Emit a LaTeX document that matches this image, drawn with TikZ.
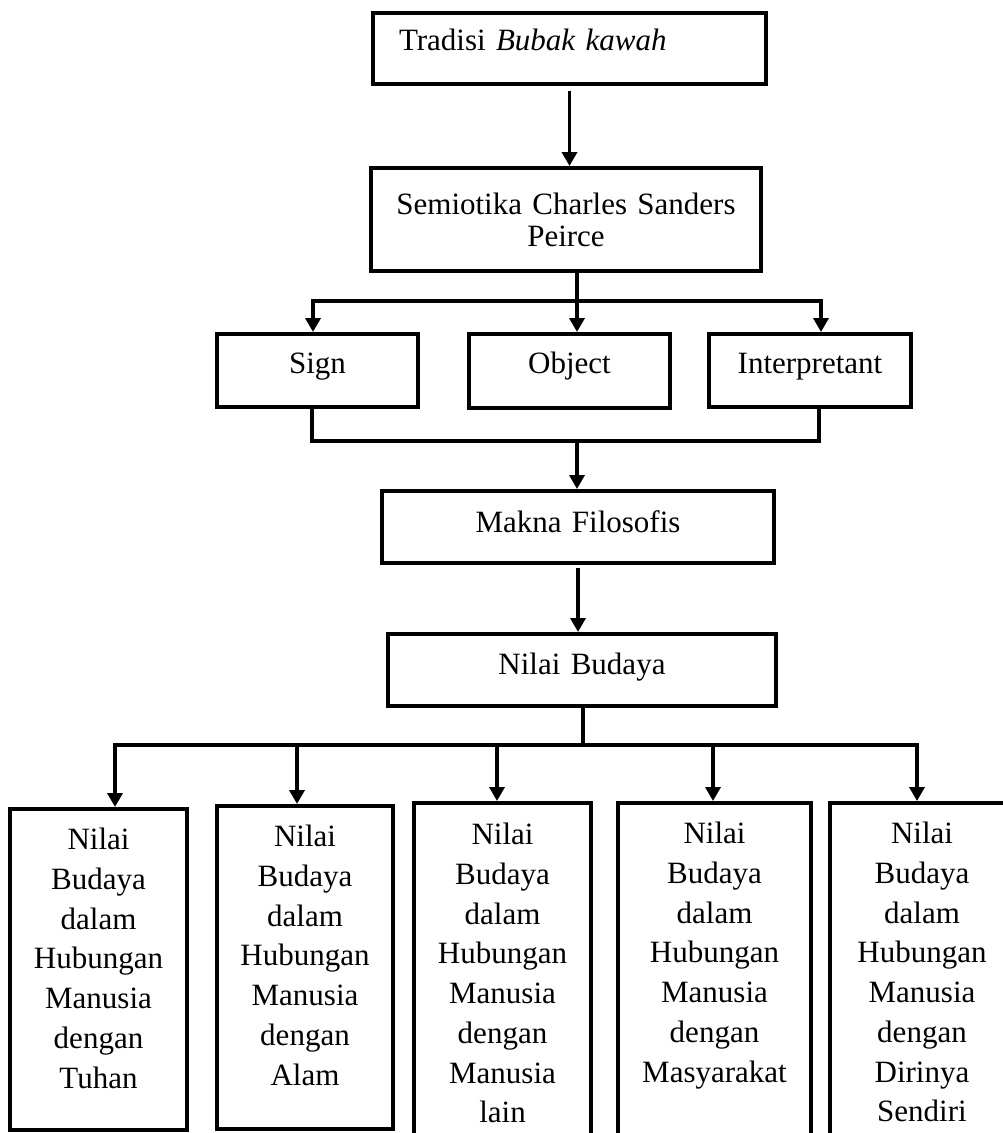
\documentclass[tikz,border=0pt]{standalone}
\usepackage{fontspec}
\setmainfont{Liberation Serif}
\usetikzlibrary{arrows.meta}

\begin{document}
\begin{tikzpicture}[x=1pt, y=-1pt, line width=3.6pt,
    kotak/.style={draw, inner sep=0pt, align=center, anchor=north,
      font=\fontsize{31}{39.7}\selectfont},
    panah/.style={-{Triangle[width=15pt,length=14pt]}}]
    \useasboundingbox (0,0) rectangle (1003,1133);
    \node[kotak, text width=341pt, inner xsep=26pt, align=left,
      text height=38pt, text depth=33pt] (tradisi) at (569.5,11) {Tradisi \textit{Bubak kawah}};
    \node[kotak, text width=390pt, font=\fontsize{31}{32}\selectfont,
      text height=47pt, text depth=56pt] (semiotika) at (566,166) {Semiotika Charles Sanders\\Peirce};
    \node[kotak, text width=201pt, text height=40pt, text depth=33pt] (sign) at (317.5,332) {Sign};
    \node[kotak, text width=201pt, text height=40pt, text depth=34pt] (object) at (569.5,332) {Object};
    \node[kotak, text width=202pt, text height=40pt, text depth=33pt] (interpretant) at (810,332) {Interpretant};
    \node[kotak, text width=392pt, text height=42pt, text depth=30pt] (makna) at (578,489) {Makna Filosofis};
    \node[kotak, text width=388pt, text height=41pt, text depth=31pt] (nilai) at (582,632) {Nilai Budaya};
    \node[kotak, text width=177pt, text height=41pt, text depth=280pt] (tuhan) at (98.5,807)
      {Nilai\\Budaya\\dalam\\Hubungan\\Manusia\\dengan\\Tuhan};
    \node[kotak, text width=176pt, text height=41pt, text depth=282pt] (alam) at (305,804)
      {Nilai\\Budaya\\dalam\\Hubungan\\Manusia\\dengan\\Alam};
    \node[kotak, text width=177pt, text height=42pt, text depth=310pt] (manusia) at (502.5,801)
      {Nilai\\Budaya\\dalam\\Hubungan\\Manusia\\dengan\\Manusia\\lain};
    \node[kotak, text width=193pt, text height=41pt, text depth=310pt] (masyarakat) at (714.5,801)
      {Nilai\\Budaya\\dalam\\Hubungan\\Manusia\\dengan\\Masyarakat};
    \node[kotak, text width=184pt, text height=41pt, text depth=310pt] (diri) at (922,801)
      {Nilai\\Budaya\\dalam\\Hubungan\\Manusia\\dengan\\Dirinya\\Sendiri};

    \coordinate (cabang) at (577,301);
    \coordinate (gabung) at (577,441);
    \coordinate (bawah) at (583,745);

    \draw[panah, shorten <=5pt] (tradisi.south) -- (tradisi.south |- semiotika.north);
    \draw[panah] (semiotika.south -| cabang) -- (object.north -| cabang);
    \draw[panah] (cabang) -| (313,301 |- sign.north);
    \draw[panah] (cabang) -| (821,301 |- interpretant.north);
    \draw (sign.south -| 312,441) |- (gabung) -| (interpretant.south -| 819,441);
    \draw[panah] (gabung) -- (gabung |- makna.north);
    \draw[panah, shorten <=3pt] (makna.south) -- (makna.south |- nilai.north);
    \draw (nilai.south -| bawah) -- (bawah);
    \draw[panah] (bawah) -| (115,745 |- tuhan.north);
    \draw[panah] (bawah) -| (917,745 |- diri.north);
    \foreach \x/\n in {297/alam, 497/manusia, 713/masyarakat}
      \draw[panah] (\x,745) -- (\x,745 |- \n.north);
\end{tikzpicture}
\end{document}
